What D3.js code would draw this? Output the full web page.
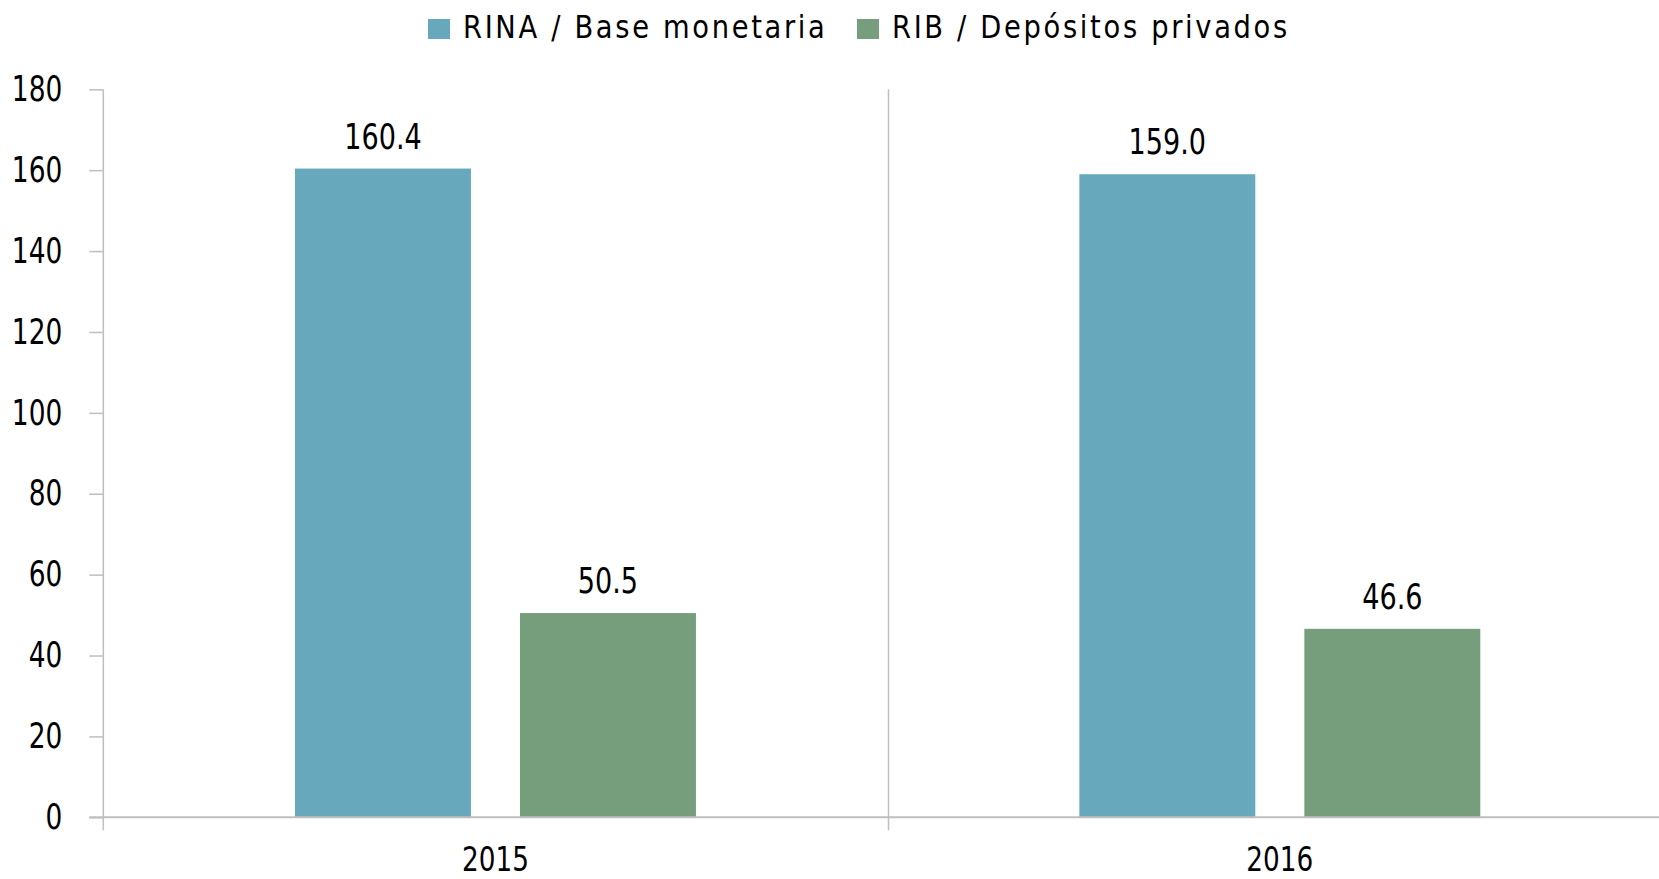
<!DOCTYPE html>
<html><head><meta charset="utf-8">
<script src="https://cdn.jsdelivr.net/npm/d3@7"></script>
<style>
html,body{margin:0;padding:0;background:#fff;}
svg{display:block;}
text{font-family:"Liberation Sans Narrow","DejaVu Sans Condensed","Liberation Sans",sans-serif;fill:#000;}
</style></head>
<body>
<svg id="chart" width="1659" height="879"></svg>
<script>
const categories = ["2015", "2016"];
const seriesNames = ["RINA / Base monetaria", "RIB / Depósitos privados"];
const rinaValues = [160.4, 159.0];
const ribValues = [50.5, 46.6];
const yTicks = [0, 20, 40, 60, 80, 100, 120, 140, 160, 180];
const colors = ["#68a8bd", "#769e7c"];

(function () {
const svg = d3.select("#chart");
const axisColor = "#bfbfbf";
const plotTop = 89.3, plotBottom = 817.3, plotLeft = 103.3, plotRight = 1672;

function narrow(sel, origin, k) {
  sel.style("transform-box", "fill-box").style("transform-origin", origin)
     .style("transform", `scaleX(${k})`);
}

const y = d3.scaleLinear().domain([0, 180]).range([plotBottom, plotTop]);
const x0 = d3.scaleBand().domain(categories).range([plotLeft, plotRight]).padding(0);
const x1 = d3.scaleBand().domain(seriesNames).range([0, x0.bandwidth()])
  .paddingInner(0.218).paddingOuter(0.852);

const data = categories.map((c, i) => ({cat: c, vals: [rinaValues[i], ribValues[i]]}));

// category separators
svg.append("g").selectAll("line").data(categories.slice(1)).join("line")
  .attr("x1", d => Math.round(x0(d)) + 0.5).attr("x2", d => Math.round(x0(d)) + 0.5)
  .attr("y1", plotTop).attr("y2", plotBottom + 13)
  .attr("stroke", axisColor).attr("stroke-width", 1.5);

// bars
const groups = svg.append("g").selectAll("g").data(data).join("g")
  .attr("transform", d => `translate(${x0(d.cat)},0)`);
groups.selectAll("rect").data(d => d.vals.map((v, j) => ({name: seriesNames[j], v, j}))).join("rect")
  .attr("x", d => x1(d.name)).attr("width", x1.bandwidth())
  .attr("y", d => y(d.v)).attr("height", d => y(0) - y(d.v))
  .attr("fill", d => colors[d.j]);
const vl = groups.selectAll("text").data(d => d.vals.map((v, j) => ({name: seriesNames[j], v, j}))).join("text")
  .attr("x", d => x1(d.name) + x1.bandwidth() / 2)
  .attr("y", d => y(d.v) - 20)
  .attr("text-anchor", "middle").attr("font-size", 35)
  .text(d => d.v.toFixed(1));
narrow(vl, "center", 0.86);

// y axis
const yAxis = svg.append("g").attr("transform", `translate(${plotLeft},0)`)
  .call(d3.axisLeft(y).tickValues(yTicks).tickSize(14).tickPadding(27).tickFormat(d3.format("d")));
yAxis.select(".domain").remove();
yAxis.selectAll(".tick line").attr("stroke", axisColor).attr("stroke-width", 1.5);
const yt = yAxis.selectAll(".tick text").attr("font-size", 35).attr("fill", "#000")
  .attr("font-family", '"Liberation Sans Narrow","DejaVu Sans Condensed","Liberation Sans",sans-serif');
narrow(yt, "right center", 0.84);
svg.append("line").attr("x1", plotLeft).attr("x2", plotLeft).attr("y1", plotTop).attr("y2", plotBottom + 13)
  .attr("stroke", axisColor).attr("stroke-width", 1.5);

// x axis
svg.append("line").attr("x1", plotLeft - 14).attr("x2", 1659).attr("y1", plotBottom).attr("y2", plotBottom)
  .attr("stroke", axisColor).attr("stroke-width", 2);
const xl = svg.append("g").selectAll("text").data(categories).join("text")
  .attr("x", d => x0(d) + x0.bandwidth() / 2).attr("y", 871)
  .attr("text-anchor", "middle").attr("font-size", 34).text(d => d);
narrow(xl, "center", 0.86);

// legend
const legendX = [428, 857];
const lg = svg.append("g").selectAll("g").data(seriesNames).join("g")
  .attr("transform", (d, i) => `translate(${legendX[i]},0)`);
lg.append("rect").attr("x", 0).attr("y", 19).attr("width", 22).attr("height", 20)
  .attr("fill", (d, i) => colors[i]);
const lt = lg.append("text").attr("x", 35).attr("y", 38.5).attr("font-size", 32)
  .attr("letter-spacing", 2.8).text(d => d);
narrow(lt, "left center", 0.95);
})();
</script>
</body></html>
